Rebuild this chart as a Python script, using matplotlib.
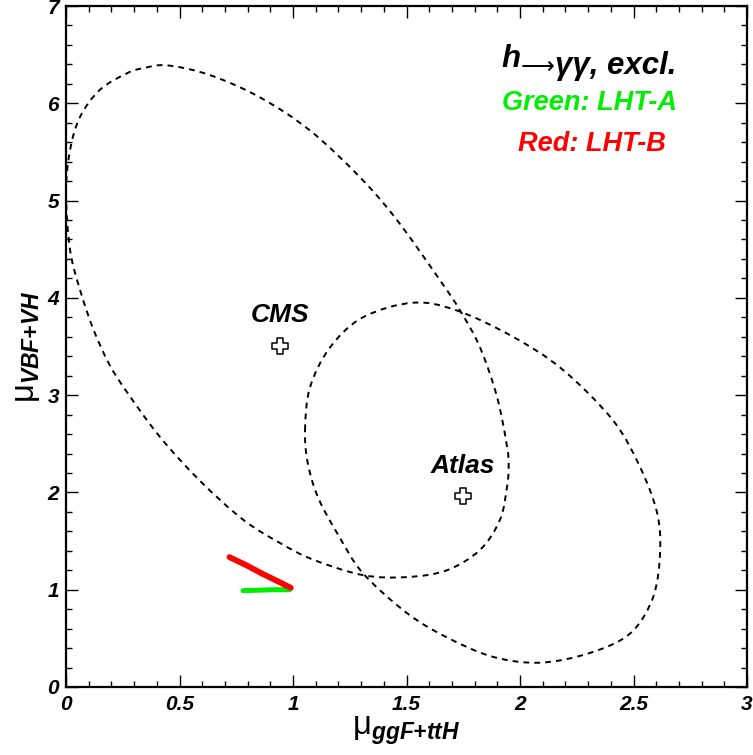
import matplotlib
matplotlib.use("Agg")
import matplotlib.pyplot as plt
import numpy as np
from matplotlib.ticker import MultipleLocator
from matplotlib.path import Path
from matplotlib.patches import PathPatch

plt.rcParams['font.family'] = ['Liberation Sans', 'DejaVu Sans']
plt.rcParams['mathtext.fontset'] = 'custom'
plt.rcParams['mathtext.rm'] = 'Liberation Sans'
plt.rcParams['mathtext.it'] = 'Liberation Sans:italic'
plt.rcParams['mathtext.bf'] = 'Liberation Sans:bold:italic'

# ---- data ----
cms_x = [0.0, 0.018, 0.062, 0.15, 0.27, 0.339, 0.445, 0.634, 0.855, 1.075, 1.295, 1.458,
         1.648, 1.736, 1.824, 1.899, 1.943, 1.95, 1.943, 1.912, 1.824, 1.678, 1.502, 1.308,
         1.088, 0.943, 0.780, 0.590, 0.414, 0.269, 0.19, 0.12, 0.062, 0.018]
cms_y = [5.08, 5.52, 5.86, 6.14, 6.31, 6.36, 6.39, 6.29, 6.06, 5.72, 5.24, 4.80,
         4.18, 3.87, 3.49, 2.98, 2.47, 2.26, 2.06, 1.72, 1.41, 1.20, 1.13, 1.15,
         1.31, 1.48, 1.72, 2.12, 2.57, 3.03, 3.32, 3.68, 4.08, 4.49]

atlas_x = [1.053, 1.075, 1.163, 1.308, 1.529, 1.722, 1.969, 2.189, 2.410, 2.529, 2.604, 2.617,
           2.586, 2.485, 2.308, 2.088, 1.881, 1.678, 1.502, 1.308, 1.20, 1.112, 1.066]
atlas_y = [2.64, 3.08, 3.49, 3.80, 3.95, 3.87, 3.60, 3.26, 2.74, 2.26, 1.79, 1.38,
           0.92, 0.55, 0.35, 0.25, 0.31, 0.51, 0.76, 1.17, 1.56, 1.94, 2.29]

best_names = ["CMS", "Atlas"]
best_x = [0.943, 1.749]
best_y = [3.51, 1.96]

lht_a_x = [0.78, 0.85, 0.92, 0.985]
lht_a_y = [0.99, 0.995, 1.0, 1.0]
lht_b_x = [0.72, 0.80, 0.86, 0.93, 0.99]
lht_b_y = [1.335, 1.245, 1.17, 1.09, 1.02]

xticks = [0, 0.5, 1, 1.5, 2, 2.5, 3]
xticklabels = ["0", "0.5", "1", "1.5", "2", "2.5", "3"]
yticks = [0, 1, 2, 3, 4, 5, 6, 7]
yticklabels = ["0", "1", "2", "3", "4", "5", "6", "7"]


def closed_smooth_path(xs, ys):
    """Closed Catmull-Rom curve through the read points, rendered as cubic Beziers."""
    p = np.column_stack([xs, ys]).astype(float)
    n = len(p)
    verts = [p[0]]
    codes = [Path.MOVETO]
    for i in range(n):
        p0, p1, p2, p3 = p[i - 1], p[i], p[(i + 1) % n], p[(i + 2) % n]
        c1 = p1 + (p2 - p0) / 6.0
        c2 = p2 - (p3 - p1) / 6.0
        verts += [c1, c2, p2]
        codes += [Path.CURVE4] * 3
    return Path(np.array(verts), codes)


fig = plt.figure(figsize=(7.53, 7.55), dpi=100)
ax = fig.add_axes([66/753, 1-687/755, (747-66)/753, (687-6)/755])
ax.set_xlim(0, 3)
ax.set_ylim(0, 7)

dash = (0, (3, 2.6))
for xs, ys in [(cms_x, cms_y), (atlas_x, atlas_y)]:
    ax.add_patch(PathPatch(closed_smooth_path(xs, ys), facecolor='none', edgecolor='black',
                           lw=1.4, linestyle=dash))

ax.plot(lht_a_x, lht_a_y, color='#00ee00', lw=3.6, solid_capstyle='round')
ax.plot(lht_b_x, lht_b_y, color='#ff0000', lw=4.2, solid_capstyle='round')

ax.scatter(best_x, best_y, marker='P', s=120, facecolor='white', edgecolor='black',
           linewidths=1.1, zorder=5)
for n, x, y in zip(best_names, best_x, best_y):
    ax.annotate(n, (x, y), xytext=(0, 13), textcoords='offset points', ha='center',
                va='bottom', fontsize=19, fontweight='bold', fontstyle='italic')

# title-like label built from pieces so the arrow can be a wider glyph
tkw = dict(fontsize=22.5, fontweight='bold', fontstyle='italic', va='baseline', ha='left')
t1 = ax.text(0.640, 0.911, "h", transform=ax.transAxes, **tkw)
t2 = ax.annotate("\u27f6", xy=(1.0, 0.0), xycoords=(t1, t1), family='DejaVu Sans',
                 fontsize=17, fontweight='normal', va='baseline', ha='left')
t3 = ax.annotate("\u03b3\u03b3, excl.", xy=(1.0, 0.0), xycoords=(t2, t1), **tkw)

ax.text(0.769, 0.858, "Green: LHT-A", transform=ax.transAxes, ha='center', va='center',
        fontsize=19.5, fontweight='bold', fontstyle='italic', color='#00ee00')
ax.text(0.772, 0.798, "Red: LHT-B", transform=ax.transAxes, ha='center', va='center',
        fontsize=19.5, fontweight='bold', fontstyle='italic', color='#ff0000')

ax.set_xticks(xticks)
ax.set_xticklabels(xticklabels)
ax.set_yticks(yticks)
ax.set_yticklabels(yticklabels)
ax.xaxis.set_minor_locator(MultipleLocator(0.1))
ax.yaxis.set_minor_locator(MultipleLocator(0.2))
ax.tick_params(which='both', direction='in', top=True, right=True, width=1.0)
ax.tick_params(which='major', length=8.5, labelsize=15)
ax.tick_params(which='minor', length=4.3)
ax.tick_params(axis='x', pad=6)
ax.tick_params(axis='y', pad=5)
for lab in ax.get_xticklabels() + ax.get_yticklabels():
    lab.set_fontweight('bold')
    lab.set_fontstyle('italic')
for s in ax.spines.values():
    s.set_linewidth(1.6)

ax.set_xlabel(r'$\mathrm{\mu}_{\mathbf{ggF{+}ttH}}$', fontsize=23.5, labelpad=0)
ax.set_ylabel(r'$\mathrm{\mu}_{\mathbf{VBF{+}VH}}$', fontsize=23.5, labelpad=4)

fig.savefig("out.png", dpi=100)
